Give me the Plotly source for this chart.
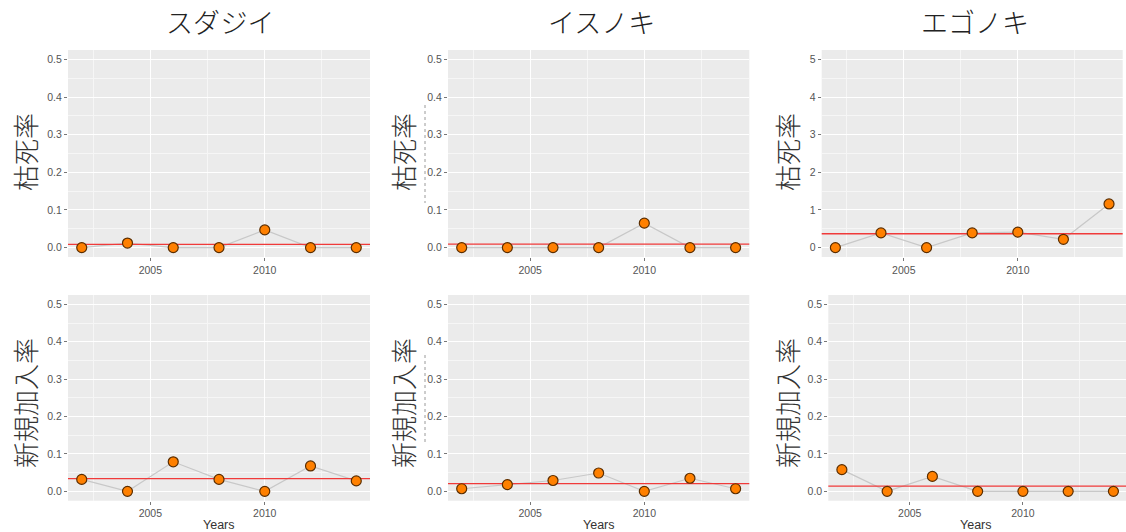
import numpy as np
import plotly.graph_objects as go

W, H = 1126, 532

# ---- data -------------------------------------------------------------
years = [2002, 2004, 2006, 2008, 2010, 2012, 2014]
species = ["スダジイ", "イスノキ", "エゴノキ"]
row_titles = ["枯死率", "新規加入率"]

mortality = {
    "スダジイ": [0.0, 0.012, 0.0, 0.0, 0.047, 0.0, 0.0],
    "イスノキ": [0.0, 0.0, 0.0, 0.0, 0.065, 0.0, 0.0],
    "エゴノキ": [0.0, 0.39, 0.0, 0.39, 0.41, 0.22, 1.16],
}
recruitment = {
    "スダジイ": [0.032, 0.0, 0.079, 0.032, 0.0, 0.068, 0.028],
    "イスノキ": [0.007, 0.018, 0.029, 0.049, 0.0, 0.035, 0.007],
    "エゴノキ": [0.058, 0.0, 0.040, 0.0, 0.0, 0.0, 0.0],
}
y_limits = {
    ("スダジイ", 0): 0.5, ("イスノキ", 0): 0.5, ("エゴノキ", 0): 5.0,
    ("スダジイ", 1): 0.5, ("イスノキ", 1): 0.5, ("エゴノキ", 1): 0.5,
}

# ---- panel placement (pixels: left, right, top, bottom) ---------------
panels = {
    ("スダジイ", 0): (68, 370, 50, 257),
    ("イスノキ", 0): (448, 749.3, 50, 257),
    ("エゴノキ", 0): (821.7, 1122.7, 50, 257),
    ("スダジイ", 1): (68, 370, 295, 500.7),
    ("イスノキ", 1): (448, 749.3, 295, 500.7),
    ("エゴノキ", 1): (828.3, 1127, 295, 500.7),
}
X_RANGE = [2001.4, 2014.6]

ORANGE = "#FF8000"
EDGE = "#5a2d00"
GREY_LINE = "#c8c8c8"
TICK_COL = "#555555"
LATIN = "Liberation Sans, Arial, sans-serif"
CJK = "Noto Sans CJK JP, sans-serif"

fig = go.Figure()
layout = dict(
    width=W, height=H, margin=dict(l=0, r=0, t=0, b=0),
    paper_bgcolor="white", plot_bgcolor="white", showlegend=False,
)
annotations = []
shapes = []


def label(text, px, py, size, family, color, angle=0, weight="normal"):
    return dict(text=text, xref="paper", yref="paper", x=px / W, y=1 - py / H,
                xanchor="center", yanchor="middle", showarrow=False,
                textangle=angle,
                font=dict(family=family, size=size, color=color, weight=weight))


idx = 0
for r in range(2):
    for sp in species:
        idx += 1
        key = (sp, r)
        vals = (mortality if r == 0 else recruitment)[sp]
        top = y_limits[key]
        mean_val = float(np.mean(vals))
        L, R, T, B = panels[key]
        xa = "x" if idx == 1 else f"x{idx}"
        ya = "y" if idx == 1 else f"y{idx}"

        # a panel that runs past the page edge is clipped at the edge
        px_per_year = (R - L) / (X_RANGE[1] - X_RANGE[0])
        x_hi = X_RANGE[0] + (min(R, W) - L) / px_per_year
        dom_x = [L / W, min(R, W) / W]
        pad = top * 0.05

        fig.add_trace(go.Scatter(
            x=years, y=vals, mode="lines",
            line=dict(color=GREY_LINE, width=1.2),
            xaxis=xa, yaxis=ya, hoverinfo="skip"))
        fig.add_trace(go.Scatter(
            x=[X_RANGE[0] - 1, X_RANGE[1] + 1], y=[mean_val, mean_val],
            mode="lines", line=dict(color="#F03A3A", width=1.3),
            xaxis=xa, yaxis=ya, hoverinfo="skip"))
        fig.add_trace(go.Scatter(
            x=years, y=vals, mode="markers",
            marker=dict(size=10, color=ORANGE, line=dict(color=EDGE, width=1.2)),
            xaxis=xa, yaxis=ya))

        if top >= 1:
            yt = list(range(0, int(top) + 1))
            ytxt = [str(v) for v in yt]
            minor_y = [v + 0.5 for v in yt[:-1]]
        else:
            yt = [round(0.1 * k, 1) for k in range(6)]
            ytxt = [f"{v:.1f}" for v in yt]
            minor_y = [round(v + 0.05, 2) for v in yt[:-1]]

        xkey = "xaxis" if idx == 1 else f"xaxis{idx}"
        ykey = "yaxis" if idx == 1 else f"yaxis{idx}"
        layout[xkey] = dict(
            domain=dom_x, anchor=ya, range=[X_RANGE[0], x_hi],
            tickvals=[2005, 2010], ticktext=["2005", "2010"],
            ticks="outside", ticklen=3, tickcolor="#777", tickwidth=1,
            tickfont=dict(family=LATIN, size=10.5, color=TICK_COL),
            showgrid=True, gridcolor="white", gridwidth=1.1,
            minor=dict(tickvals=[2002.5, 2007.5, 2012.5], showgrid=True,
                       gridcolor="#f6f6f6", gridwidth=0.7),
            zeroline=False, showline=False, fixedrange=True,
        )
        layout[ykey] = dict(
            domain=[1 - B / H, 1 - T / H], anchor=xa,
            range=[-pad, top + pad],
            tickvals=yt, ticktext=ytxt,
            ticks="outside", ticklen=3, tickcolor="#777", tickwidth=1,
            tickfont=dict(family=LATIN, size=10.5, color=TICK_COL),
            showgrid=True, gridcolor="white", gridwidth=1.1,
            minor=dict(tickvals=minor_y, showgrid=True,
                       gridcolor="#f6f6f6", gridwidth=0.7),
            zeroline=False, showline=False, fixedrange=True,
        )
        # grey panel background
        shapes.append(dict(type="rect", xref=f"{xa} domain", yref=f"{ya} domain",
                           x0=0, x1=1, y0=0, y1=1, fillcolor="#EBEBEB",
                           line=dict(width=0), layer="below"))

        # vertical row label
        lx = {"スダジイ": 24, "イスノキ": 402, "エゴノキ": 786}[sp]
        ly = 152 if r == 0 else 403
        annotations.append(label(row_titles[r], lx, ly, 26, CJK, "#333", -90, 300))
        if r == 1:
            cx = {"スダジイ": 219, "イスノキ": 599, "エゴノキ": 976}[sp]
            annotations.append(label("Years", cx, 525, 12.5, LATIN, "#333"))

# species titles
for sp, cx in zip(species, [220, 601, 975]):
    annotations.append(label(sp, cx, 22, 27, CJK, "#222", 0, 300))

# faint dotted rules beside the middle column labels
for y0, y1 in [(105, 203), (355, 443)]:
    shapes.append(dict(type="line", xref="paper", yref="paper",
                       x0=425 / W, x1=425 / W, y0=1 - y0 / H, y1=1 - y1 / H,
                       line=dict(color="#9a9a9a", width=1, dash="dot")))

layout["annotations"] = annotations
layout["shapes"] = shapes
fig.update_layout(**layout)
fig.write_html("out.html")
